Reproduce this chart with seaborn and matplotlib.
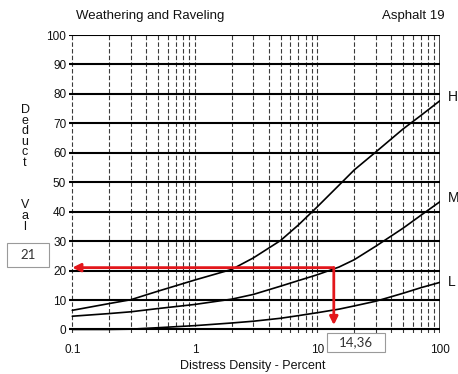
"""Courbe de valeurs de deduction : Weathering and Raveling (Asphalt 19)."""

import matplotlib
matplotlib.use("Agg")
import matplotlib.pyplot as plt
import pandas as pd
import seaborn as sns
from matplotlib.patches import Rectangle

# Valeurs
density = [0.1, 0.2, 0.3, 0.5, 1, 2, 3, 5, 7, 10, 15, 20, 30, 50, 70, 100]
high = [6.5, 8.8, 10.1, 13.0, 16.8, 20.4, 24.3, 30.2, 35.5, 41.7, 49.0, 54.2, 60.3, 68.1, 72.7, 77.7]
medium = [4.5, 5.4, 6.0, 7.1, 8.5, 10.3, 11.9, 14.7, 16.6, 18.6, 21.2, 23.7, 28.3, 34.4, 38.8, 43.4]
low = [0.0, 0.0, 0.1, 0.6, 1.3, 2.2, 2.8, 3.8, 4.7, 5.7, 6.9, 8.0, 9.6, 12.3, 14.2, 16.0]
severity = ["H", "M", "L"]
severity_label_y = [79, 44.5, 16]

y_ticks = list(range(0, 101, 10))
x_ticks = [0.1, 1, 10, 100]
x_tick_labels = ["0.1", "1", "10", "100"]

reading_x = 13.6          # position de la fleche verticale telle que dessinee
reading_y = 21
reading_labels = ["21", "14,36"]

RED = "#e3161b"

sns.set_theme(style="white")
plt.rcParams["font.family"] = ["Liberation Sans", "DejaVu Sans"]

data = pd.DataFrame({"density": density, "H": high, "M": medium, "L": low})
long = data.melt(id_vars="density", var_name="severity", value_name="deduct")

fig = plt.figure(figsize=(4.58, 3.74), dpi=100)
ax = fig.add_axes([69 / 458, 1 - 333 / 374, 371 / 458, 298 / 374])
ax.set_xscale("log")
ax.set_xlim(0.094, 100)
ax.set_ylim(-1.2, 100)

# grille verticale pointillee (sous-divisions log)
minor = [m * 10.0 ** e for e in (-1, 0, 1) for m in range(1, 10)]
for xv in minor:
    ax.axvline(xv, color="#3a3a3a", lw=0.8, ls=(0, (4, 2)), zorder=1)
ax.axvline(100, color="#222222", lw=1.2, zorder=1)
for yv in y_ticks:
    ax.axhline(yv, color="black", lw=1.5, zorder=2)

sns.lineplot(data=long, x="density", y="deduct", hue="severity",
             palette={"H": "black", "M": "black", "L": "black"},
             lw=1.2, legend=False, ax=ax, zorder=3)

for spine in ax.spines.values():
    spine.set_visible(False)
ax.set_xticks(x_ticks)
ax.set_xticklabels(x_tick_labels)
ax.xaxis.set_minor_locator(matplotlib.ticker.NullLocator())
ax.set_yticks(y_ticks)
ax.tick_params(axis="both", length=0, labelsize=8.5, colors="#111111")
ax.tick_params(axis="x", pad=8)
ax.tick_params(axis="y", pad=2)
ax.set_xlabel("")
ax.set_ylabel("")
ax.grid(False)

for name, yv in zip(severity, severity_label_y):
    ax.text(1.02, yv, name, transform=ax.get_yaxis_transform(), fontsize=10,
            va="center", ha="left", color="#111111")

# lecture en rouge
ax.annotate("", xy=(0.1, reading_y), xytext=(reading_x, reading_y),
            arrowprops=dict(arrowstyle="-|>", color=RED, lw=2, mutation_scale=12,
                            shrinkA=0, shrinkB=0), zorder=5)
ax.annotate("", xy=(reading_x, 1.5), xytext=(reading_x, reading_y),
            arrowprops=dict(arrowstyle="-|>", color=RED, lw=2, mutation_scale=12,
                            shrinkA=0, shrinkB=0), zorder=5)

# titres et libelles
fig.text(76 / 458, 1 - 16 / 374, "Weathering and Raveling", fontsize=9.5,
         ha="left", va="center", color="#111111")
fig.text(445 / 458, 1 - 16 / 374, "Asphalt 19", fontsize=9.5,
         ha="right", va="center", color="#111111")
fig.text(253 / 458, 1 - 366 / 374, "Distress Density - Percent", fontsize=9,
         ha="center", va="center", color="#111111")
# "Deduct Value" en lettres empilees ; la fin du mot est cachee par l'encadre "21"
ylabel_letters = list("Deduct") + ["", "", ""] + list("Val")
for i, letter in enumerate(ylabel_letters):
    fig.text(25 / 458, 1 - (110 + 10.6 * i) / 374, letter, fontsize=9,
             ha="center", va="center", color="#111111")

# encadres de lecture
boxes = [(7, 243, 42, 24), (327, 333, 58, 19)]
for (bx, by, bw, bh), label in zip(boxes, reading_labels):
    fig.add_artist(Rectangle((bx / 458, 1 - (by + bh) / 374), bw / 458, bh / 374,
                             transform=fig.transFigure, facecolor="white",
                             edgecolor="#9a9a9a", lw=0.8, zorder=10))
    fig.text((bx + bw / 2) / 458, 1 - (by + bh / 2) / 374, label, fontsize=9.5,
             family=["Lato", "DejaVu Sans"], ha="center", va="center",
             color="#333333", zorder=11)

fig.savefig("out.png", dpi=100)
